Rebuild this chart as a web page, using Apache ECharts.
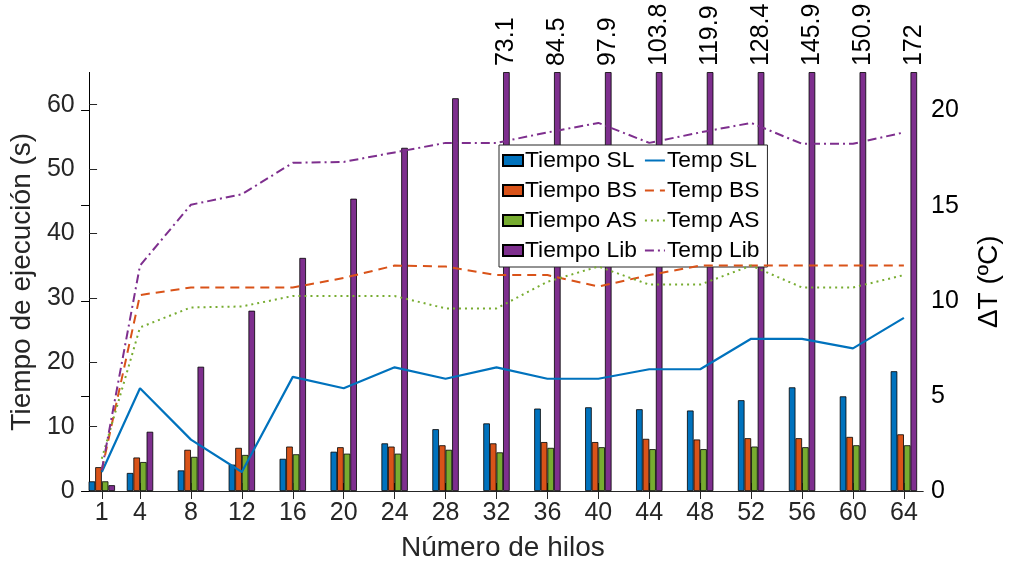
<!DOCTYPE html>
<html>
<head>
<meta charset="utf-8">
<script src="https://cdn.jsdelivr.net/npm/echarts@6/dist/echarts.min.js"></script>
<style>
  html, body { margin: 0; padding: 0; background: #fff; }
  #main { width: 1011px; height: 567px; }
</style>
</head>
<body>
<div id="main"></div>
<script>
// datos
var hilos = [1, 4, 8, 12, 16, 20, 24, 28, 32, 36, 40, 44, 48, 52, 56, 60, 64];
var tiempoSL = [1.5, 2.8, 3.2, 4.1, 5.0, 6.1, 7.4, 9.6, 10.5, 12.8, 13.0, 12.7, 12.5, 14.1, 16.1, 14.7, 18.6];
var tiempoBS = [3.7, 5.2, 6.4, 6.7, 6.9, 6.8, 6.9, 7.1, 7.4, 7.6, 7.6, 8.1, 8.0, 8.2, 8.2, 8.4, 8.8];
var tiempoAS = [1.5, 4.5, 5.3, 5.6, 5.7, 5.8, 5.8, 6.4, 6.0, 6.7, 6.8, 6.5, 6.5, 6.9, 6.8, 7.1, 7.1];
var tiempoLib = [0.9, 9.2, 19.3, 28.0, 36.2, 45.4, 53.3, 61.0, 73.1, 84.5, 97.9, 103.8, 119.9, 128.4, 145.9, 150.9, 172];
var tempSL = [1.0, 5.4, 2.7, 1.0, 6.0, 5.4, 6.5, 5.9, 6.5, 5.9, 5.9, 6.4, 6.4, 8.0, 8.0, 7.5, 9.1];
var tempBS = [1.1, 10.3, 10.7, 10.7, 10.7, 11.2, 11.85, 11.8, 11.35, 11.35, 10.75, 11.35, 11.85, 11.85, 11.85, 11.85, 11.85];
var tempAS = [1.7, 8.6, 9.65, 9.7, 10.25, 10.25, 10.25, 9.6, 9.6, 11.0, 11.8, 10.85, 10.85, 11.85, 10.7, 10.7, 11.35];
var tempLib = [1.1, 11.85, 15.05, 15.6, 17.25, 17.3, 17.8, 18.3, 18.3, 18.85, 19.35, 18.3, 18.85, 19.35, 18.25, 18.25, 18.85];
var ticksIzq = [0, 10, 20, 30, 40, 50, 60];
var ticksDer = [0, 5, 10, 15, 20];
var maxIzq = 65;

var fuente = "'Liberation Sans', Arial, Helvetica, sans-serif";
var colores = ['#0072BD', '#D95319', '#77AC30', '#7E2F8E'];

function pares(v) {
    var out = [];
    for (var i = 0; i < hilos.length; i++) {
        out.push([hilos[i], v[i]]);
    }
    return out;
}

function barra(nombre, valores, color, conEtiqueta) {
    var s = {
        name: nombre,
        type: 'bar',
        xAxisIndex: 0,
        yAxisIndex: 0,
        barWidth: 6.6,
        barGap: '0%',
        clip: true,
        itemStyle: { color: color, borderColor: '#000', borderWidth: 0.8 },
        data: pares(valores)
    };
    if (conEtiqueta) {
        // solo se etiquetan las barras que se salen del eje
        s.label = {
            show: true,
            position: 'top',
            rotate: 90,
            align: 'left',
            verticalAlign: 'middle',
            distance: 6,
            fontFamily: fuente,
            fontSize: 25,
            color: '#000',
            formatter: function (p) {
                return p.value[1] > maxIzq ? String(p.value[1]) : '';
            }
        };
    }
    return s;
}

function linea(nombre, valores, color, tipo, ancho) {
    return {
        name: nombre,
        type: 'line',
        xAxisIndex: 0,
        yAxisIndex: 1,
        symbol: 'none',
        z: 5,
        lineStyle: { color: color, width: ancho, type: tipo },
        itemStyle: { color: color },
        data: pares(valores)
    };
}

var myChart = echarts.init(document.getElementById('main'), null, { renderer: 'canvas' });
var option = {
    animation: false,
    textStyle: { fontFamily: fuente },
    grid: { left: 80, right: 77, top: 72.5, bottom: 75 },
    legend: {
        orient: 'vertical',
        left: 499,
        top: 145,
        height: 128,
        padding: [4, 8, 5, 3],
        itemWidth: 20,
        itemHeight: 11,
        itemGap: 7,
        backgroundColor: '#fff',
        borderColor: '#262626',
        borderWidth: 1,
        textStyle: { fontFamily: fuente, fontSize: 22.8, color: '#000', padding: [0, 0, 0, -3] },
        data: [
            { name: 'Tiempo SL', icon: 'rect' },
            { name: 'Tiempo BS', icon: 'rect' },
            { name: 'Tiempo AS', icon: 'rect' },
            { name: 'Tiempo Lib', icon: 'rect' },
            { name: 'Temp SL', itemStyle: { opacity: 0 } },
            { name: 'Temp BS', itemStyle: { opacity: 0 } },
            { name: 'Temp AS', itemStyle: { opacity: 0 } },
            { name: 'Temp Lib', itemStyle: { opacity: 0 } }
        ]
    },
    xAxis: [
        {
            type: 'value',
            position: 'bottom',
            min: -0.5,
            max: 65.5,
            name: 'Número de hilos',
            nameLocation: 'middle',
            nameGap: 43,
            nameTextStyle: { fontFamily: fuente, fontSize: 28, color: '#262626' },
            splitLine: { show: false },
            axisLine: { lineStyle: { color: '#262626', width: 1 } },
            axisTick: { inside: true, length: 8, customValues: hilos, lineStyle: { color: '#262626' } },
            axisLabel: { customValues: hilos, fontFamily: fuente, fontSize: 25, color: '#262626', margin: 10 }
        },
        {
            type: 'value',
            position: 'top',
            min: -0.5,
            max: 65.5,
            splitLine: { show: false },
            axisLine: { show: true, lineStyle: { color: '#262626', width: 1 } },
            axisTick: { inside: true, length: 8, customValues: hilos, lineStyle: { color: '#262626' } },
            axisLabel: { show: false }
        }
    ],
    yAxis: [
        {
            type: 'value',
            position: 'left',
            min: 0,
            max: maxIzq,
            name: 'Tiempo de ejecución (s)',
            nameLocation: 'middle',
            nameRotate: 90,
            nameGap: 28,
            nameTextStyle: { fontFamily: fuente, fontSize: 28, color: '#262626' },
            splitLine: { show: false },
            axisLine: { show: true, lineStyle: { color: '#262626', width: 1 } },
            axisTick: { inside: true, length: 8, customValues: ticksIzq, lineStyle: { color: '#262626' } },
            axisLabel: { customValues: ticksIzq, fontFamily: fuente, fontSize: 25, color: '#262626', margin: 8 }
        },
        {
            type: 'value',
            position: 'right',
            min: 0,
            max: 22,
            name: 'ΔT (ºC)',
            nameLocation: 'middle',
            nameRotate: 90,
            nameGap: 52,
            nameTextStyle: { fontFamily: fuente, fontSize: 28, color: '#000' },
            splitLine: { show: false },
            axisLine: { show: true, lineStyle: { color: '#000', width: 1 } },
            axisTick: { inside: true, length: 8, customValues: ticksDer, lineStyle: { color: '#000' } },
            axisLabel: { customValues: ticksDer, fontFamily: fuente, fontSize: 25, color: '#000', margin: 8 }
        }
    ],
    series: [
        barra('Tiempo SL', tiempoSL, colores[0], false),
        barra('Tiempo BS', tiempoBS, colores[1], false),
        barra('Tiempo AS', tiempoAS, colores[2], false),
        barra('Tiempo Lib', tiempoLib, colores[3], true),
        linea('Temp SL', tempSL, colores[0], 'solid', 2.2),
        linea('Temp BS', tempBS, colores[1], [9, 6], 2),
        linea('Temp AS', tempAS, colores[2], [2, 4], 2),
        linea('Temp Lib', tempLib, colores[3], [9, 4, 2, 4], 2)
    ]
};
myChart.setOption(option);
</script>
</body>
</html>
